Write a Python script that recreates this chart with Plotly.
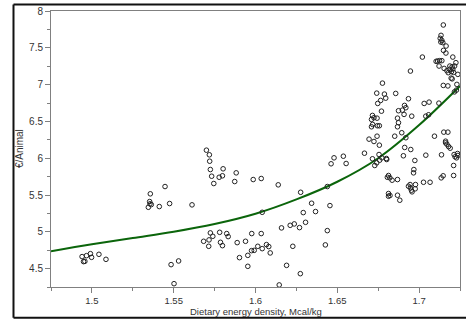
import plotly.graph_objects as go

# Observed data points (Dietary energy density, €/Animal)
energy_density = [
    1.494, 1.4967, 1.4991, 1.4998, 1.4957, 1.4949, 1.5043, 1.5086,
    1.5357, 1.5353, 1.5355, 1.5363, 1.5345, 1.5412, 1.5447, 1.5475, 1.5612, 1.5484, 1.5530, 1.5502,
    1.5700, 1.5718, 1.5720, 1.5724, 1.5732, 1.5745, 1.5802, 1.5798, 1.5778, 1.5882, 1.5873, 1.5986,
    1.6035, 1.6139, 1.6041,
    1.5724, 1.5739, 1.5716, 1.5683, 1.5714, 1.5781, 1.5786, 1.5798, 1.5824, 1.5833, 1.5888, 1.5902,
    1.5939, 1.5953, 1.5953, 1.5977, 1.5976, 1.5992, 1.6014, 1.6035, 1.6041, 1.6067, 1.6081, 1.6090,
    1.6190, 1.6145, 1.6274, 1.6228, 1.6159, 1.6212, 1.6237, 1.6269, 1.6292, 1.6306, 1.6276, 1.6343,
    1.6367, 1.6439, 1.6455, 1.6439, 1.6427, 1.6462, 1.6480, 1.6537, 1.6554,
    1.6666, 1.6694, 1.6709, 1.6715, 1.6724, 1.6743, 1.6716, 1.6709, 1.6745, 1.6757, 1.6741, 1.6765,
    1.6747, 1.6776, 1.6788, 1.6796, 1.6770, 1.6743, 1.6724, 1.6757, 1.6755, 1.6715, 1.6772, 1.6800,
    1.6741, 1.6729, 1.6759, 1.6857, 1.6935, 1.6911, 1.6919, 1.6898, 1.6874, 1.6908, 1.6955, 1.6868,
    1.6874, 1.6868, 1.6894, 1.6851, 1.6919, 1.6912, 1.6949, 1.6904, 1.6947, 1.6802,
    1.6813, 1.6806, 1.6821, 1.6835, 1.6868, 1.6813, 1.6813, 1.6822, 1.6868, 1.6882, 1.6935, 1.6945,
    1.6953, 1.6947, 1.6957, 1.6976, 1.6978, 1.6966, 1.6968, 1.6974, 1.7027, 1.7067, 1.7135, 1.7147,
    1.7211, 1.7211, 1.7041, 1.7137, 1.7214, 1.7220, 1.7235, 1.7237, 1.7229,
    1.7148, 1.7134, 1.7129, 1.7139, 1.7133, 1.7145, 1.7165, 1.7149, 1.7164, 1.7206, 1.7020, 1.7113,
    1.7125, 1.7139, 1.7104, 1.7225, 1.7217, 1.7188, 1.7202, 1.7206, 1.7186, 1.7198, 1.7211, 1.7153,
    1.7170, 1.7178, 1.7122, 1.7237, 1.7196, 1.7202, 1.7148, 1.7176, 1.7231, 1.7228, 1.7216, 1.7031,
    1.7061, 1.7121, 1.7041, 1.7058, 1.7094, 1.7151, 1.7176, 1.7162, 1.7162, 1.7170, 1.7180, 1.7190,
]
cost_per_animal = [
    4.663, 4.676, 4.703, 4.653, 4.599, 4.595, 4.694, 4.626,
    5.516, 5.411, 5.380, 5.370, 5.333, 5.343, 5.615, 5.384, 5.366, 4.554, 4.604, 4.295,
    6.109, 6.046, 5.959, 5.846, 5.755, 5.656, 5.856, 5.761, 5.741, 5.801, 5.683, 5.710,
    5.724, 5.638, 5.265,
    4.985, 4.939, 4.890, 4.871, 4.803, 4.993, 4.857, 4.812, 4.976, 4.935, 4.853, 4.649,
    4.871, 4.680, 4.531, 4.976, 4.744, 4.748, 4.803, 4.976, 4.771, 4.826, 4.799, 4.713,
    4.544, 4.278, 4.431, 4.803, 5.053, 5.088, 5.107, 5.057, 5.261, 5.129, 5.537, 5.388,
    5.275, 5.615, 5.356, 5.016, 4.822, 5.924, 6.005, 6.027, 5.928,
    6.068, 6.259, 6.527, 6.581, 6.550, 6.544, 6.459, 6.427, 6.441, 6.441, 6.884, 6.785,
    6.744, 7.020, 6.871, 6.816, 6.639, 6.299, 6.227, 6.177, 6.050, 5.992, 6.005, 5.996,
    5.937, 5.901, 5.973, 6.880, 6.808, 6.717, 6.686, 6.653, 6.645, 6.595, 6.571, 6.544,
    6.482, 6.427, 6.346, 6.299, 6.278, 6.146, 6.118, 6.033, 7.184, 5.982,
    5.765, 5.741, 5.733, 5.701, 5.710, 5.520, 5.483, 5.493, 5.497, 5.429, 5.619, 5.642,
    5.565, 5.597, 5.543, 5.584, 5.642, 5.801, 5.846, 5.969, 5.673, 5.673, 5.733, 5.761,
    5.765, 5.901, 6.041, 6.046, 6.050, 6.019, 6.064, 6.037, 6.005,
    7.810, 7.669, 7.629, 7.601, 7.578, 7.570, 7.524, 7.465, 7.429, 7.374, 7.374, 7.320,
    7.325, 7.325, 7.316, 7.298, 7.252, 7.252, 7.243, 7.211, 7.207, 7.176, 7.166, 7.220,
    7.189, 7.162, 7.252, 7.139, 7.088, 7.078, 6.989, 6.982, 7.003, 6.925, 6.901, 6.744,
    6.762, 6.748, 6.571, 6.590, 6.299, 6.354, 6.354, 6.231, 6.209, 6.190, 6.159, 6.136,
]

# Fitted curve
fit_x = [1.475, 1.5, 1.525, 1.55, 1.575, 1.6, 1.625, 1.65, 1.675, 1.7, 1.725]
fit_y = [4.735, 4.83, 4.915, 5.0, 5.105, 5.245, 5.44, 5.68, 6.0, 6.45, 6.98]

x_tick_vals = [1.5, 1.55, 1.6, 1.65, 1.7]
x_tick_text = ["1.5", "1.55", "1.6", "1.65", "1.7"]
y_tick_vals = [4.5, 5, 5.5, 6, 6.5, 7, 7.5, 8]
y_tick_text = ["4.5", "5", "5.5", "6", "6.5", "7", "7.5", "8"]
x_title = "Dietary energy density, Mcal/kg"
y_title = "€/Animal"

fig = go.Figure()
fig.add_trace(go.Scatter(
    x=fit_x, y=fit_y, mode="lines",
    line=dict(color="#0b650b", width=2, shape="spline", smoothing=1.0),
    hoverinfo="skip", showlegend=False,
))
fig.add_trace(go.Scatter(
    x=energy_density, y=cost_per_animal, mode="markers",
    marker=dict(symbol="circle-open", size=4.6, color="#222222", line=dict(width=1, color="#222222")),
    showlegend=False,
))

axis_col = "#808080"
font_fam = "Liberation Sans, Arial, sans-serif"
txt_col = "#333333"

fig.update_layout(
    width=466, height=320,
    margin=dict(l=51, r=6, t=11, b=33),
    paper_bgcolor="white", plot_bgcolor="white",
    font=dict(family=font_fam, size=10, color=txt_col),
    xaxis=dict(
        range=[1.475, 1.725], tickvals=x_tick_vals, ticktext=x_tick_text,
        ticks="outside", ticklen=5, tickcolor=axis_col, tickwidth=1,
        minor=dict(dtick=0.025, tick0=1.475, ticks="outside", ticklen=3, tickcolor=axis_col, showgrid=False),
        showline=True, linecolor=axis_col, linewidth=1, mirror=True,
        showgrid=False, zeroline=False,
        tickfont=dict(size=9.5, color=txt_col),
    ),
    yaxis=dict(
        range=[4.25, 8], tickvals=y_tick_vals, ticktext=y_tick_text,
        ticks="outside", ticklen=5, tickcolor=axis_col, tickwidth=1,
        minor=dict(dtick=0.25, tick0=4.25, ticks="outside", ticklen=3, tickcolor=axis_col, showgrid=False),
        showline=True, linecolor=axis_col, linewidth=1, mirror=True,
        showgrid=False, zeroline=False,
        tickfont=dict(size=10, color=txt_col),
    ),
    annotations=[
        dict(text=x_title, xref="paper", yref="paper", x=0.5, y=-0.089,
             xanchor="center", yanchor="middle", showarrow=False,
             font=dict(size=9.5, color=txt_col)),
        dict(text=y_title, xref="paper", yref="paper", x=-0.078, y=0.5,
             xanchor="center", yanchor="middle", showarrow=False, textangle=-90,
             font=dict(size=10, color=txt_col)),
    ],
    shapes=[
        dict(type="line", xref="paper", yref="paper", x0=-0.0917, x1=1.02, y0=1.0236, y1=1.0236,
             line=dict(color="#111111", width=2)),
        dict(type="line", xref="paper", yref="paper", x0=-0.0917, x1=1.02, y0=-0.111, y1=-0.111,
             line=dict(color="#111111", width=2)),
        dict(type="line", xref="paper", yref="paper", x0=-0.0917, x1=-0.0917, y0=-0.111, y1=1.0236,
             line=dict(color="#111111", width=2)),
    ],
)

fig.write_html("out.html")
